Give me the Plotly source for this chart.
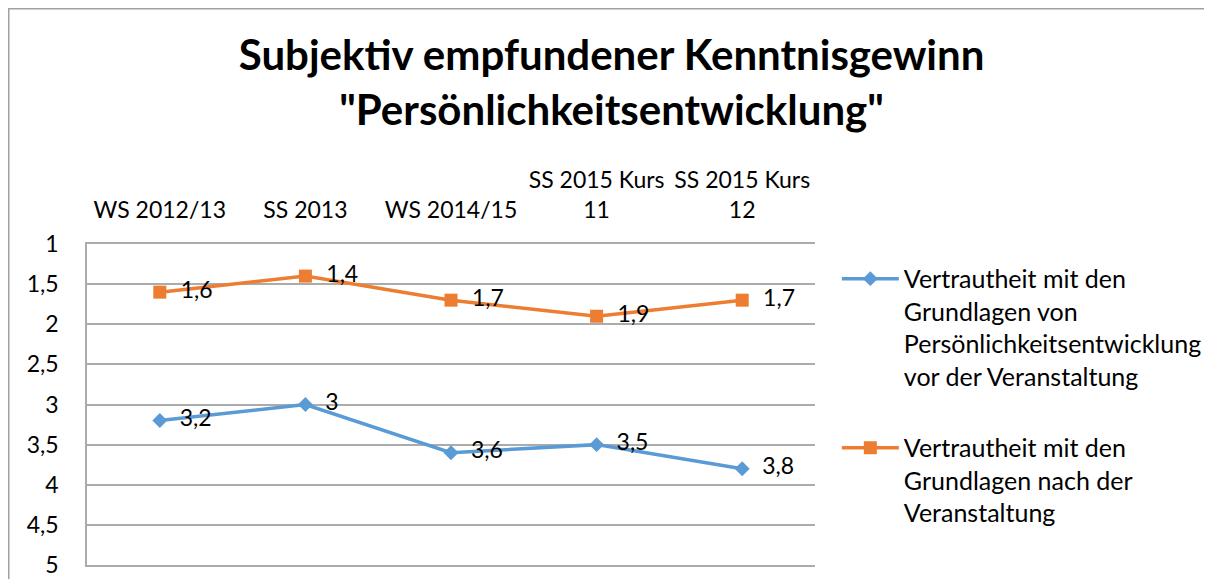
import plotly.graph_objects as go

categories = ["WS 2012/13", "SS 2013", "WS 2014/15", "SS 2015 Kurs<br>11", "SS 2015 Kurs<br>12"]
vor_values = [3.2, 3.0, 3.6, 3.5, 3.8]
nach_values = [1.6, 1.4, 1.7, 1.9, 1.7]
y_ticks = [1, 1.5, 2, 2.5, 3, 3.5, 4, 4.5, 5]

name_vor = "Vertrautheit mit den<br>Grundlagen von<br>Persönlichkeitsentwicklung<br>vor der Veranstaltung"
name_nach = "Vertrautheit mit den<br>Grundlagen nach der<br>Veranstaltung"

BLUE = "#5B9BD5"
ORANGE = "#ED7D31"
GRID = "#ABABAB"
FONT = "Lato, 'Open Sans', sans-serif"

W, H = 1212, 579
ML, MR, MT, MB = 79, 405, 236, 22
PW = W - ML - MR
PH = H - MT - MB


def fmt(v):
    return f"{v:g}".replace(".", ",")


fig = go.Figure()
fig.add_trace(go.Scatter(
    x=categories, y=vor_values, name=name_vor, legendgroup="a",
    mode="lines+markers+text",
    line=dict(color=BLUE, width=3.5),
    marker=dict(symbol="diamond", size=11.5, color=BLUE),
    text=["  " + fmt(v) for v in vor_values],
    textposition="middle right",
    textfont=dict(size=23, color="#000000", family=FONT),
    cliponaxis=False,
))
fig.add_trace(go.Scatter(
    x=categories, y=nach_values, name=name_nach, legendgroup="b",
    mode="lines+markers+text",
    line=dict(color=ORANGE, width=3.5),
    marker=dict(symbol="square", size=13, color=ORANGE),
    text=["  " + fmt(v) for v in nach_values],
    textposition="middle right",
    textfont=dict(size=23, color="#000000", family=FONT),
    cliponaxis=False,
))

fig.update_layout(
    width=W, height=H,
    margin=dict(l=ML, r=MR, t=MT, b=MB, autoexpand=False),
    paper_bgcolor="white", plot_bgcolor="white",
    separators=",.",
    font=dict(family=FONT, size=23, color="#000000"),
    title=dict(
        text="<b>Subjektiv empfundener Kenntnisgewinn<br>\"Persönlichkeitsentwicklung\"</b>",
        x=0.498, xanchor="center", y=0.893, yanchor="top", yref="container",
        font=dict(size=42, color="#000000", family=FONT),
    ),
    xaxis=dict(
        type="category", side="top", range=[-0.5, 4.5],
        showgrid=False, showline=True, mirror=True, linecolor=GRID, linewidth=1.5,
        ticks="", ticklabelstandoff=15, automargin=False,
        tickfont=dict(size=23, family=FONT),
    ),
    yaxis=dict(
        range=[5, 1], tickvals=y_ticks, ticktext=[fmt(v) for v in y_ticks],
        showgrid=True, gridcolor=GRID, gridwidth=1.5,
        showline=True, linecolor=GRID, linewidth=1.5,
        zeroline=False, ticks="outside", ticklen=22, tickcolor="rgba(0,0,0,0)",
        automargin=False,
        tickfont=dict(size=23, family=FONT),
    ),
    legend=dict(
        x=1.03, xanchor="left", y=0.963, yanchor="top",
        valign="top", tracegroupgap=36, itemwidth=57,
        font=dict(size=25, family=FONT, color="#000000"),
        bgcolor="rgba(0,0,0,0)",
    ),
    showlegend=True,
    shapes=[dict(
        type="rect", xref="paper", yref="paper",
        x0=(0.75 - ML) / PW, x1=(W + 30 - ML) / PW,
        y0=-(40) / PH, y1=1 + (MT - 0.75) / PH,
        line=dict(color="#A0A0A0", width=1.5), fillcolor="rgba(0,0,0,0)",
        layer="below",
    )],
)

fig.write_html("out.html")
